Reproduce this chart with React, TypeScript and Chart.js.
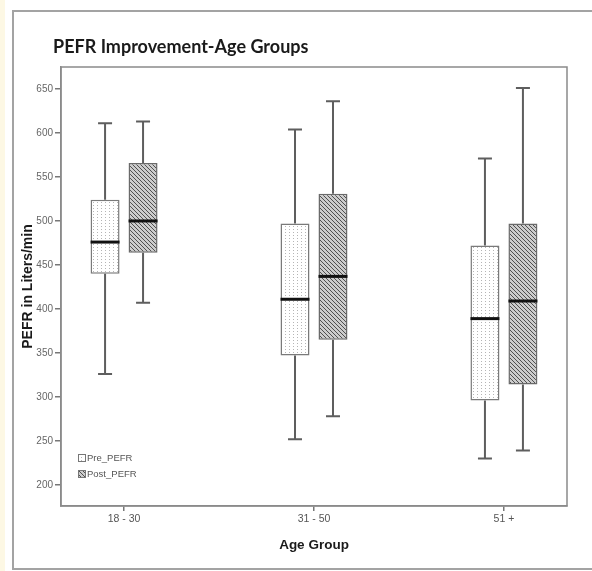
import React, { useEffect, useRef } from "react";
import { Chart, registerables } from "chart.js";

Chart.register(...registerables);

const categories = ["18 - 30", "31 - 50", "51 +"];
const preMin = [326, 252, 230];
const preQ1 = [440, 347, 296];
const preMedian = [476, 411, 389];
const preQ3 = [524, 497, 472];
const preMax = [611, 604, 571];
const postMin = [407, 278, 239];
const postQ1 = [464, 365, 314];
const postMedian = [500, 437, 409];
const postQ3 = [566, 531, 497];
const postMax = [613, 636, 651];
const yTicks = [200, 250, 300, 350, 400, 450, 500, 550, 600, 650];
const seriesNames = ["Pre_PEFR", "Post_PEFR"];
const chartTitle = "PEFR Improvement-Age Groups";
const xTitle = "Age Group";
const yTitle = "PEFR in Liters/min";

function makeDotPattern(): CanvasPattern | string {
  const c = document.createElement("canvas");
  c.width = 4;
  c.height = 3;
  const g = c.getContext("2d")!;
  g.fillStyle = "#ffffff";
  g.fillRect(0, 0, 4, 3);
  g.fillStyle = "#b5b5b5";
  g.fillRect(1, 1, 1, 1);
  return g.createPattern(c, "repeat") || "#fff";
}

function makeHatchPattern(): CanvasPattern | string {
  const c = document.createElement("canvas");
  c.width = 4;
  c.height = 4;
  const g = c.getContext("2d")!;
  g.fillStyle = "#cccccc";
  g.fillRect(0, 0, 4, 4);
  g.fillStyle = "#505050";
  for (let k = 0; k < 4; k++) g.fillRect(k, k, 1, 1);
  return g.createPattern(c, "repeat") || "#999";
}

export default function App() {
  const ref = useRef<HTMLCanvasElement | null>(null);

  useEffect(() => {
    document.body.style.margin = "0";
    const canvas = ref.current!;
    const prePat = makeDotPattern();
    const postPat = makeHatchPattern();
    const stats = [
      { min: preMin, q1: preQ1, med: preMedian, q3: preQ3, max: preMax },
      { min: postMin, q1: postQ1, med: postMedian, q3: postQ3, max: postMax },
    ];

    const boxPlugin = {
      id: "boxExtras",
      beforeDraw(chart: any) {
        const ctx = chart.ctx;
        ctx.save();
        ctx.fillStyle = "#ffffff";
        ctx.fillRect(0, 0, chart.width, chart.height);
        ctx.fillStyle = "#fdf8e4";
        ctx.fillRect(0, 0, 5, chart.height);
        ctx.strokeStyle = "#a3a3a3";
        ctx.lineWidth = 2;
        ctx.strokeRect(13, 11, chart.width + 20, 558);
        ctx.fillStyle = "#1a1a1a";
        ctx.font = "bold 18px Lato";
        ctx.textBaseline = "alphabetic";
        ctx.textAlign = "left";
        ctx.fillText(chartTitle, 53, 53);
        ctx.restore();
      },
      afterDatasetsDraw(chart: any) {
        const ctx = chart.ctx;
        const ys = chart.scales.y;
        ctx.save();
        stats.forEach((s, di) => {
          const meta = chart.getDatasetMeta(di);
          meta.data.forEach((el: any, j: number) => {
            const x = el.x;
            const w = el.width;
            const pMin = ys.getPixelForValue(s.min[j]);
            const pQ1 = ys.getPixelForValue(s.q1[j]);
            const pQ3 = ys.getPixelForValue(s.q3[j]);
            const pMax = ys.getPixelForValue(s.max[j]);
            const pMed = ys.getPixelForValue(s.med[j]);
            ctx.strokeStyle = "#5e5e5e";
            ctx.lineWidth = 2;
            ctx.beginPath();
            ctx.moveTo(x, pQ3);
            ctx.lineTo(x, pMax);
            ctx.moveTo(x, pQ1);
            ctx.lineTo(x, pMin);
            ctx.moveTo(x - 7, pMax);
            ctx.lineTo(x + 7, pMax);
            ctx.moveTo(x - 7, pMin);
            ctx.lineTo(x + 7, pMin);
            ctx.stroke();
            ctx.strokeStyle = "#111111";
            ctx.lineWidth = 3;
            ctx.beginPath();
            ctx.moveTo(x - w / 2, pMed);
            ctx.lineTo(x + w / 2, pMed);
            ctx.stroke();
          });
        });
        ctx.restore();
      },
      afterDraw(chart: any) {
        const ctx = chart.ctx;
        const a = chart.chartArea;
        ctx.save();
        ctx.strokeStyle = "#8a8a8a";
        ctx.lineWidth = 1.5;
        ctx.strokeRect(a.left, a.top, a.right - a.left, a.bottom - a.top);
        // legend
        const pats = [prePat, postPat];
        ctx.font = "9.5px 'Liberation Sans'";
        ctx.textBaseline = "middle";
        ctx.textAlign = "left";
        seriesNames.forEach((n, i) => {
          const yy = 454 + i * 16;
          ctx.fillStyle = pats[i] as any;
          ctx.fillRect(78, yy, 7, 7);
          ctx.strokeStyle = "#777";
          ctx.lineWidth = 1;
          ctx.strokeRect(78.5, yy + 0.5, 7, 7);
          ctx.fillStyle = "#555";
          ctx.fillText(n, 87, yy + 4);
        });
        // axis titles
        ctx.fillStyle = "#1a1a1a";
        ctx.font = "bold 13.5px 'Liberation Sans'";
        ctx.textAlign = "center";
        ctx.textBaseline = "middle";
        ctx.fillText(xTitle, (a.left + a.right) / 2, 545);
        ctx.font = "bold 14px 'Liberation Sans'";
        ctx.translate(28, (a.top + a.bottom) / 2);
        ctx.rotate(-Math.PI / 2);
        ctx.fillText(yTitle, 0, 0);
        ctx.restore();
      },
    };

    const chart = new Chart(canvas, {
      type: "bar",
      data: {
        datasets: [
          {
            label: seriesNames[0],
            data: categories.map((_, i) => ({ x: i, y: [preQ1[i], preQ3[i]] })) as any,
            backgroundColor: prePat as any,
            borderColor: "#7a7a7a",
            borderWidth: 1.5,
            borderSkipped: false,
            categoryPercentage: 0.4,
            barPercentage: 0.763,
          },
          {
            label: seriesNames[1],
            data: categories.map((_, i) => ({ x: i, y: [postQ1[i], postQ3[i]] })) as any,
            backgroundColor: postPat as any,
            borderColor: "#6a6a6a",
            borderWidth: 1.5,
            borderSkipped: false,
            categoryPercentage: 0.4,
            barPercentage: 0.763,
          },
        ],
      },
      options: {
        responsive: false,
        animation: false,
        devicePixelRatio: 1,
        layout: { padding: { top: 67, right: 25, left: 0, bottom: 0 } },
        plugins: { legend: { display: false }, tooltip: { enabled: false }, title: { display: false } },
        scales: {
          x: {
            type: "linear",
            offset: false,
            min: -0.332,
            max: 2.332,
            afterBuildTicks: (s: any) => {
              s.ticks = categories.map((_, i) => ({ value: i }));
            },
            afterFit: (s: any) => {
              s.height = 65;
            },
            ticks: {
              autoSkip: false,
              maxRotation: 0,
              padding: 2,
              color: "#555",
              font: { family: "'Liberation Sans'", size: 10.5 },
              callback: (v: any) => categories[Math.round(Number(v))] ?? "",
            },
            grid: { offset: false, drawOnChartArea: false, drawTicks: true, tickLength: 5, color: "#777", lineWidth: 1.5 },
            border: { display: true, color: "#8a8a8a", width: 1.5 },
          },
          y: {
            type: "linear",
            min: 176,
            max: 675,
            afterBuildTicks: (s: any) => {
              s.ticks = yTicks.map((v) => ({ value: v }));
            },
            afterFit: (s: any) => {
              s.width = 61;
            },
            ticks: {
              padding: 2,
              color: "#666",
              font: { family: "'Liberation Sans'", size: 10 },
            },
            grid: { drawOnChartArea: false, drawTicks: true, tickLength: 6, color: "#777", lineWidth: 1.5 },
            border: { display: true, color: "#8a8a8a", width: 1.5 },
          },
        },
      },
      plugins: [boxPlugin],
    } as any);

    return () => chart.destroy();
  }, []);

  return <canvas ref={ref} width={592} height={571} style={{ display: "block" }} />;
}
